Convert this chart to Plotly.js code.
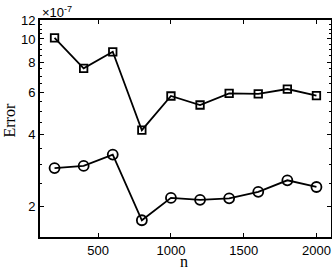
<!DOCTYPE html>
<html>
<head>
<meta charset="utf-8">
<script src="https://cdn.plot.ly/plotly-3.0.1.min.js"></script>
<style>html,body{margin:0;padding:0;background:#fff;}#chart{width:332px;height:273px;}</style>
</head>
<body>
<div id="chart"></div>
<script>
const nValues = [200, 400, 600, 800, 1000, 1200, 1400, 1600, 1800, 2000];
const squareErr = [10.1e-7, 7.54e-7, 8.84e-7, 4.16e-7, 5.78e-7, 5.3e-7, 5.93e-7, 5.9e-7, 6.18e-7, 5.8e-7];
const circleErr = [2.89e-7, 2.95e-7, 3.29e-7, 1.75e-7, 2.17e-7, 2.13e-7, 2.16e-7, 2.30e-7, 2.57e-7, 2.41e-7];
const yTickVals = [2e-7, 4e-7, 6e-7, 8e-7, 10e-7, 12e-7];
const yTickText = ['2', '4', '6', '8', '10', '12'];
const yMinorVals = [1.5e-7, 2.5e-7, 3e-7, 3.5e-7, 4.5e-7, 5e-7, 5.5e-7, 6.5e-7, 7e-7, 7.5e-7, 8.5e-7, 9e-7, 9.5e-7, 10.5e-7, 11e-7, 11.5e-7];
const xTickVals = [500, 1000, 1500, 2000];
const xTitle = 'n';
const yTitle = 'Error';

const traces = [
  {x: nValues, y: squareErr, type: 'scatter', mode: 'lines+markers',
   line: {color: '#000', width: 1.8},
   marker: {symbol: 'square-open', size: 7.5, color: '#000', line: {width: 1.8, color: '#000'}}},
  {x: nValues, y: circleErr, type: 'scatter', mode: 'lines+markers',
   line: {color: '#000', width: 1.8},
   marker: {symbol: 'circle-open', size: 10, color: '#000', line: {width: 1.8, color: '#000'}}}
];

const tickFont = {family: 'Liberation Sans, Arial, sans-serif', size: 13, color: '#000'};
const serifFont = {family: 'Liberation Serif, Times New Roman, serif', size: 16, color: '#000'};
const layout = {
  width: 332, height: 273,
  margin: {l: 40, r: 1, t: 20, b: 36},
  paper_bgcolor: '#fff', plot_bgcolor: '#fff',
  showlegend: false,
  xaxis: {
    range: [100, 2100], tickvals: xTickVals, ticktext: xTickVals.map(String),
    ticks: 'inside', ticklen: 4, tickwidth: 1, tickcolor: '#000',
    showline: true, linecolor: '#000', linewidth: 2, mirror: 'ticks',
    showgrid: false, zeroline: false, tickfont: tickFont
  },
  yaxis: {
    type: 'log',
    range: [Math.log10(1.49e-7), Math.log10(12e-7)],
    tickvals: yTickVals, ticktext: yTickText,
    ticks: 'inside', ticklen: 4, tickwidth: 1, tickcolor: '#000',
    showline: true, linecolor: '#000', linewidth: 2, mirror: 'ticks',
    showgrid: false, zeroline: false, tickfont: tickFont,
    minor: {tickmode: 'array', tickvals: yMinorVals, ticks: 'inside', ticklen: 2, tickcolor: '#000', tickwidth: 1, showgrid: false}
  },
  annotations: [
    {xref: 'paper', yref: 'paper', x: 0, y: 1, xanchor: 'left', yanchor: 'bottom', yshift: -2,
     showarrow: false, text: '×10<sup>-7</sup>',
     font: {family: 'Liberation Sans, Arial, sans-serif', size: 13, color: '#000'}},
    {xref: 'paper', yref: 'paper', x: 0.496, y: -0.112, xanchor: 'center', yanchor: 'middle',
     showarrow: false, text: xTitle, font: serifFont},
    {xref: 'paper', yref: 'paper', x: -0.105, y: 0.539, xanchor: 'center', yanchor: 'middle',
     textangle: -90, showarrow: false, text: yTitle, font: serifFont}
  ]
};

Plotly.newPlot('chart', traces, layout, {displayModeBar: false, staticPlot: true});
</script>
</body>
</html>
